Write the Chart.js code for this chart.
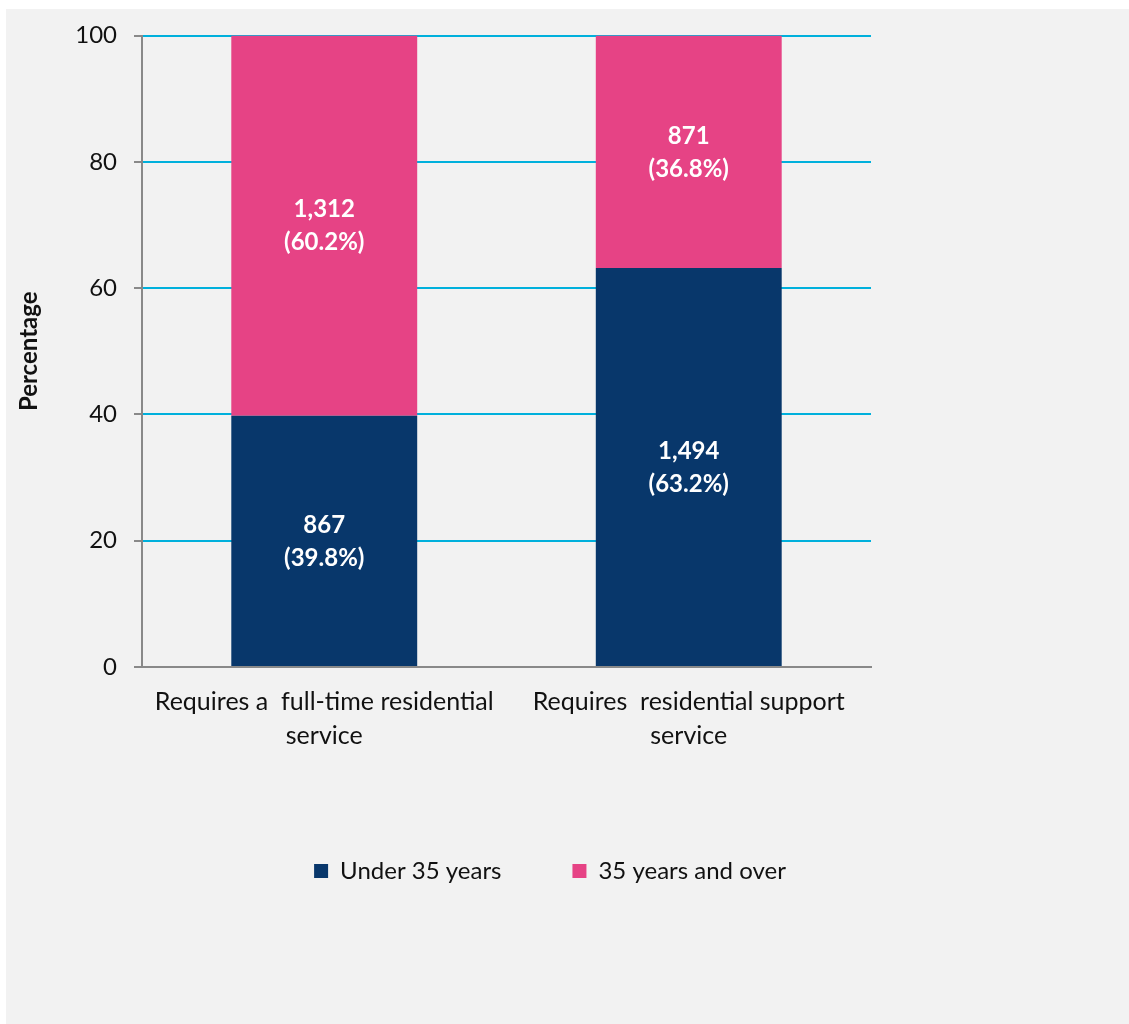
<!DOCTYPE html>
<html>
<head>
<meta charset="utf-8">
<script src="https://cdn.jsdelivr.net/npm/chart.js@4"></script>
<style>
  body { margin: 0; background: #ffffff; }
  #wrap { position: absolute; left: 6px; top: 9px; width: 1123px; height: 1015px; background: #f2f2f2; }
</style>
</head>
<body>
<div id="wrap"><canvas id="ctx_age" width="1123" height="1015"></canvas></div>
<script>
var categories = [
    ['Requires a  full-time residential', 'service'],
    ['Requires  residential support', 'service']
];
var under_35_pct = [39.8, 63.2];
var over_35_pct = [60.2, 36.8];
var under_35_count = [867, 1494];
var over_35_count = [1312, 871];
var y_ticks = [0, 20, 40, 60, 80, 100];

var counts = [under_35_count, over_35_count];

// draws "count (pct%)" in the middle of each stacked segment
var segment_labels = {
    id: 'segment_labels',
    afterDatasetsDraw: function (chart) {
        var c = chart.ctx;
        c.save();
        c.fillStyle = '#ffffff';
        c.font = 'bold 24px Lato';
        c.textAlign = 'center';
        c.textBaseline = 'middle';
        chart.data.datasets.forEach(function (ds, i) {
            chart.getDatasetMeta(i).data.forEach(function (bar, j) {
                var mid = (bar.y + bar.base) / 2;
                c.fillText(counts[i][j].toLocaleString('en-US'), bar.x, mid - 16);
                c.fillText('(' + ds.data[j].toFixed(1) + '%)', bar.x, mid + 17);
            });
        });
        c.restore();
    }
};

// legend sits a bit right of the plot centre in the original
var legend_shift = {
    id: 'legend_shift',
    afterLayout: function (chart) {
        chart.legend.left = 0;
        chart.legend.right = 1088;
    }
};

var ctx_age = document.getElementById('ctx_age').getContext('2d');
var chart_age = new Chart(ctx_age, {
    type: 'bar',
    data: {
        labels: categories,
        datasets: [{
            label: 'Under 35 years',
            data: under_35_pct,
            backgroundColor: '#08376b'
        }, {
            label: '35 years and over',
            data: over_35_pct,
            backgroundColor: '#e64385'
        }]
    },
    options: {
        responsive: false,
        animation: false,
        devicePixelRatio: 1,
        categoryPercentage: 1,
        barPercentage: 0.51,
        layout: {
            padding: { top: 21, right: 258, left: 0, bottom: 131 }
        },
        plugins: {
            tooltip: { enabled: false },
            legend: {
                position: 'bottom',
                labels: {
                    boxWidth: 14,
                    boxHeight: 14,
                    padding: 71,
                    color: '#111111',
                    font: { family: 'Lato', size: 24 }
                }
            }
        },
        scales: {
            x: {
                stacked: true,
                grid: { display: false },
                border: { display: true, color: '#898989', width: 2 },
                ticks: {
                    color: '#111111',
                    padding: 10,
                    maxRotation: 0,
                    font: { family: 'Lato', size: 25, lineHeight: 1.36 }
                },
                afterFit: function (scale) { scale.height = 121; }
            },
            y: {
                stacked: true,
                min: 0,
                max: 100,
                afterBuildTicks: function (scale) {
                    scale.ticks = y_ticks.map(function (v) { return { value: v }; });
                },
                grid: {
                    color: function (c) { return c.tick && c.tick.value === 0 ? '#898989' : '#00b0dc'; },
                    lineWidth: 2,
                    tickLength: 8,
                    tickColor: '#898989'
                },
                border: { display: true, color: '#898989', width: 2 },
                ticks: {
                    color: '#111111',
                    padding: 17,
                    font: { family: 'Lato', size: 24, lineHeight: 0.8 }
                },
                title: {
                    display: true,
                    text: 'Percentage',
                    color: '#111111',
                    padding: { top: 9, bottom: 0 },
                    font: { family: 'Lato', size: 24, weight: 'bold' }
                },
                afterFit: function (scale) { scale.width = 136; }
            }
        }
    },
    plugins: [segment_labels, legend_shift]
});
</script>
</body>
</html>
